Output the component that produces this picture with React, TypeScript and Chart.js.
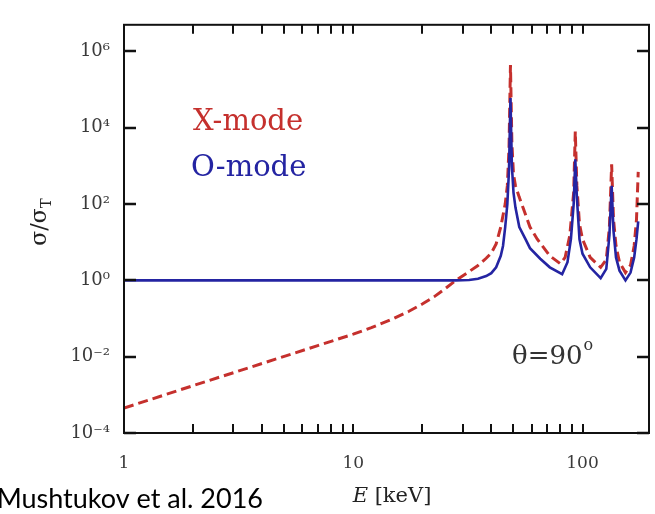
import React, { useEffect, useRef } from "react";
import { Chart, registerables } from "chart.js";

Chart.register(...registerables);

// ---- data ----
const xTickValues = [1, 10, 100];
const xTickLabels = ["1", "10", "100"];
const xMinorTickValues = [2, 3, 4, 5, 6, 7, 8, 9, 20, 30, 40, 50, 60, 70, 80, 90];
const yTickValues = [1e-4, 1e-2, 1, 1e2, 1e4, 1e6];
const yTickLabels = ["10⁻⁴", "10⁻²", "10⁰", "10²", "10⁴", "10⁶"];

const xModeEnergy = [1, 2, 3, 5, 7, 10, 12, 15, 17.5, 20, 22.5, 25, 28, 32, 35, 38, 40, 42, 44, 46, 47, 47.8, 48.5, 49.2, 50, 51, 53, 55, 59, 63.5, 72, 80, 84, 88, 91.5, 93, 94.5, 97, 100, 108, 120, 127, 131, 134, 136.5, 140, 145, 154, 162, 168, 172, 175];
const xModeSigma = [4.5e-4, 1.74e-3, 3.8e-3, 0.0102, 0.0195, 0.039, 0.0575, 0.1, 0.155, 0.24, 0.37, 0.59, 1.0, 1.7, 2.45, 3.8, 5.2, 9, 25, 100, 300, 3000, 4.4e5, 4000, 600, 300, 150, 81, 25, 12, 4.4, 2.75, 4, 15, 200, 8000, 300, 30, 12, 4, 2.2, 3.5, 25, 1100, 40, 8, 3, 1.6, 2.5, 8, 40, 700];

const oModeEnergy = [1, 10, 20, 28, 32, 35, 38, 40, 42, 44, 45, 46, 47, 47.8, 48.5, 49.2, 50, 51, 53, 56.4, 59, 65.4, 72, 81.5, 86, 89, 91.5, 93, 94.5, 97, 100, 108, 120, 127, 131, 134, 136.5, 140, 145, 154, 162, 168, 172, 175];
const oModeSigma = [1, 1, 1, 1, 1.02, 1.1, 1.3, 1.55, 2.2, 4.4, 8, 25, 100, 800, 6e4, 1000, 200, 81, 25, 12, 7, 3.7, 2.2, 1.45, 3, 12, 100, 1500, 150, 12, 5, 2.2, 1.15, 2, 15, 300, 20, 4, 1.8, 1.0, 1.6, 4, 12, 35];

const seriesNames = ["X-mode", "O-mode"];
const angleLabel = "θ=90";
const xAxisTitle = ["E", " [keV]"];
const creditText = "Mushtukov et al. 2016";

const RED = "#c5302d";
const BLUE = "#2424a2";
const SERIF = "'DejaVu Serif', serif";

const decorPlugin = {
  id: "decor",
  afterDraw(chart: any) {
    const { ctx, chartArea, scales } = chart;
    const { left, right, top, bottom } = chartArea;
    const x = scales.x;
    const y = scales.y;
    ctx.save();
    // frame
    ctx.strokeStyle = "#111";
    ctx.lineWidth = 2;
    ctx.strokeRect(left, top, right - left, bottom - top);
    // x ticks (inward, top & bottom)
    ctx.lineWidth = 2;
    [...xTickValues, ...xMinorTickValues].forEach((v) => {
      const px = Math.round(x.getPixelForValue(v));
      if (px <= left + 1 || px >= right - 1) return;
      ctx.beginPath();
      ctx.moveTo(px, bottom);
      ctx.lineTo(px, bottom - 9);
      ctx.moveTo(px, top);
      ctx.lineTo(px, top + 9);
      ctx.stroke();
    });
    // y ticks (inward, left & right)
    ctx.lineWidth = 2.5;
    yTickValues.forEach((v) => {
      const py = Math.round(y.getPixelForValue(v));
      ctx.beginPath();
      ctx.moveTo(left, py);
      ctx.lineTo(left + 12, py);
      ctx.moveTo(right, py);
      ctx.lineTo(right - 12, py);
      ctx.stroke();
    });

    // legend texts
    ctx.textBaseline = "middle";
    ctx.textAlign = "left";
    ctx.font = `29px ${SERIF}`;
    ctx.fillStyle = RED;
    ctx.fillText(seriesNames[0], 193, 122);
    ctx.fillStyle = BLUE;
    ctx.fillText(seriesNames[1], 191, 168);

    // angle annotation
    ctx.fillStyle = "#333";
    ctx.font = `26px ${SERIF}`;
    ctx.fillText(angleLabel, 512, 357);
    const w = ctx.measureText(angleLabel).width;
    ctx.font = `16px ${SERIF}`;
    ctx.fillText("o", 512 + w + 1, 346);

    // x axis title
    ctx.fillStyle = "#222";
    ctx.font = `italic 21px ${SERIF}`;
    const wE = ctx.measureText(xAxisTitle[0]).width;
    ctx.font = `21px ${SERIF}`;
    const wR = ctx.measureText(xAxisTitle[1]).width;
    const startX = 392 - (wE + wR) / 2;
    ctx.font = `italic 21px ${SERIF}`;
    ctx.fillText(xAxisTitle[0], startX, 497);
    ctx.font = `21px ${SERIF}`;
    ctx.fillText(xAxisTitle[1], startX + wE, 497);

    // y axis title (rotated)
    ctx.save();
    ctx.translate(40, 222);
    ctx.rotate(-Math.PI / 2);
    ctx.font = `22px ${SERIF}`;
    const main = "σ/σ";
    const wm = ctx.measureText(main).width;
    ctx.font = `15px ${SERIF}`;
    const ws = ctx.measureText("T").width;
    const sx = -(wm + ws) / 2;
    ctx.font = `22px ${SERIF}`;
    ctx.fillText(main, sx, 0);
    ctx.font = `15px ${SERIF}`;
    ctx.fillText("T", sx + wm, 7);
    ctx.restore();

    // credit
    ctx.fillStyle = "#000";
    ctx.textAlign = "right";
    ctx.font = "27px Lato, 'Open Sans', sans-serif";
    ctx.fillText(creditText, 263, 499);

    ctx.restore();
  },
};

export default function App() {
  const canvasRef = useRef<HTMLCanvasElement | null>(null);

  useEffect(() => {
    if (!canvasRef.current) return;
    const chart = new Chart(canvasRef.current, {
      type: "line",
      data: {
        datasets: [
          {
            label: seriesNames[1],
            data: oModeEnergy.map((e, i) => ({ x: e, y: oModeSigma[i] })),
            borderColor: BLUE,
            borderWidth: 2.6,
            pointRadius: 0,
            tension: 0,
            fill: false,
            order: 1,
          },
          {
            label: seriesNames[0],
            data: xModeEnergy.map((e, i) => ({ x: e, y: xModeSigma[i] })),
            borderColor: RED,
            borderWidth: 3,
            borderDash: [10, 5],
            pointRadius: 0,
            tension: 0,
            fill: false,
            order: 2,
          },
        ],
      },
      options: {
        responsive: false,
        animation: false,
        devicePixelRatio: 1,
        layout: { padding: { top: 12, right: 6, left: 0, bottom: 0 } },
        plugins: {
          legend: { display: false },
          tooltip: { enabled: false },
        },
        scales: {
          x: {
            type: "logarithmic",
            min: 1,
            max: 195,
            grid: { display: false, drawTicks: false },
            border: { display: false },
            afterBuildTicks: (scale: any) => {
              scale.ticks = xTickValues.map((v) => ({ value: v }));
            },
            afterFit: (scale: any) => {
              scale.height = 81;
            },
            ticks: {
              autoSkip: false,
              maxRotation: 0,
              padding: 20,
              color: "#3a3a3a",
              font: { family: SERIF, size: 17 },
              callback: (_v: any, i: number) => xTickLabels[i],
            },
          },
          y: {
            type: "logarithmic",
            min: 1e-4,
            max: 5e6,
            grid: { display: false, drawTicks: false },
            border: { display: false },
            afterBuildTicks: (scale: any) => {
              scale.ticks = yTickValues.map((v) => ({ value: v }));
            },
            afterFit: (scale: any) => {
              scale.width = 124;
            },
            ticks: {
              autoSkip: false,
              padding: 14,
              color: "#3a3a3a",
              font: { family: SERIF, size: 18 },
              callback: (_v: any, i: number) => yTickLabels[i],
            },
          },
        },
      },
      plugins: [decorPlugin],
    });
    return () => chart.destroy();
  }, []);

  return (
    <div style={{ position: "fixed", left: 0, top: 0, width: 655, height: 514, background: "#fff" }}>
      <canvas ref={canvasRef} width={655} height={514} style={{ width: 655, height: 514 }} />
    </div>
  );
}
